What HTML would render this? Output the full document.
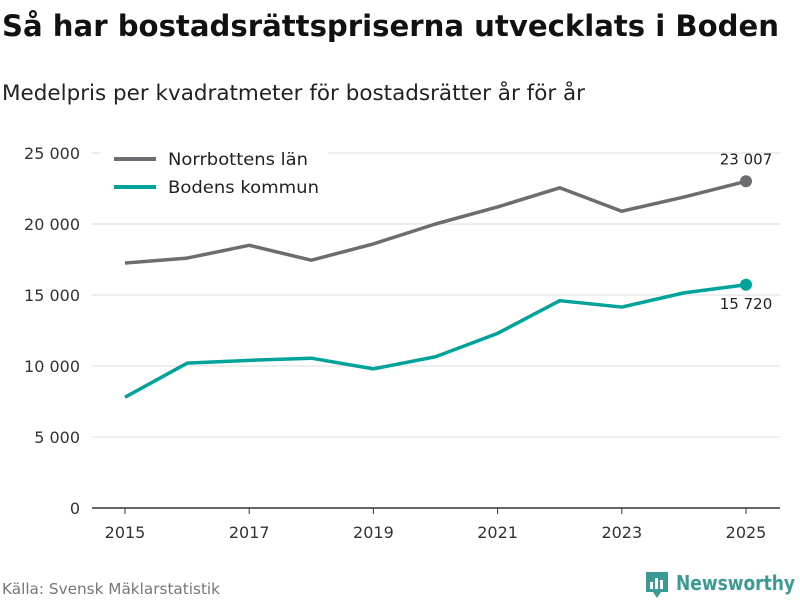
<!DOCTYPE html>
<html><head><meta charset="utf-8"><style>
body{margin:0;background:#fff;font-family:"DejaVu Sans","Liberation Sans",sans-serif;}
svg{display:block}
</style></head><body>
<svg width="800" height="600" viewBox="0 0 800 600">
<text x="2" y="36" font-size="29" font-weight="bold" fill="#111" textLength="777" lengthAdjust="spacingAndGlyphs">Så har bostadsrättspriserna utvecklats i Boden</text>
<text x="2" y="100" font-size="21" fill="#222" textLength="583" lengthAdjust="spacingAndGlyphs">Medelpris per kvadratmeter för bostadsrätter år för år</text>
<g id="grid"></g><g id="xt"></g><g id="lines"></g>
<g>
<rect x="100" y="143" width="228" height="62" fill="#fff"/>
<line x1="114" y1="159" x2="156" y2="159" stroke="#6d6c71" stroke-width="4"/>
<text x="168" y="165" font-size="17" fill="#222" textLength="140" lengthAdjust="spacingAndGlyphs">Norrbottens län</text>
<line x1="114" y1="187" x2="156" y2="187" stroke="#00a39a" stroke-width="4"/>
<text x="168" y="193" font-size="17" fill="#222" textLength="151" lengthAdjust="spacingAndGlyphs">Bodens kommun</text>
</g>
<text x="2" y="594" font-size="15" fill="#777" textLength="218" lengthAdjust="spacingAndGlyphs">Källa: Svensk Mäklarstatistik</text>
<g>
<path d="M646 572 h22 v20 h-7 l-4 6 l-4 -6 h-7 z" fill="#3b9a92"/>
<rect x="650" y="582" width="3" height="7" fill="#fff"/><rect x="655" y="578" width="3" height="11" fill="#fff"/><rect x="660" y="580" width="3" height="9" fill="#fff"/>
<text x="676" y="590" font-size="20" font-weight="bold" fill="#3b9a92" textLength="119" lengthAdjust="spacingAndGlyphs">Newsworthy</text>
</g>
</svg>
<script>
const years=[2015,2016,2017,2018,2019,2020,2021,2022,2023,2024,2025];
const norrbotten=[17250,17600,18500,17450,18600,20000,21200,22550,20900,21900,23007];
const boden=[7800,10200,10400,10550,9800,10650,12300,14600,14150,15150,15720];
const yTicks=[0,5000,10000,15000,20000,25000];
const yTickLabels=["0","5 000","10 000","15 000","20 000","25 000"];
const xTicks=[2015,2017,2019,2021,2023,2025];
const NS="http://www.w3.org/2000/svg";
const X=v=>125+(v-2015)*62.1;
const Y=v=>508-v*0.0142;
function mk(t,a,p){const e=document.createElementNS(NS,t);for(const k in a)e.setAttribute(k,a[k]);p.appendChild(e);return e;}
const g=document.getElementById('grid');
yTicks.forEach((v,i)=>{
 const l=mk('line',{x1:92,x2:780,y1:Y(v),y2:Y(v),stroke:v===0?'#333':'#ddd','stroke-width':v===0?1.5:1},g);
 
 
 const t=mk('text',{x:80,y:Y(v)+6,'text-anchor':'end','font-size':16,fill:'#333'},g);
 t.textContent=yTickLabels[i];
 
 
});
const xt=document.getElementById('xt');
xTicks.forEach(v=>{
 const l=mk('line',{x1:X(v),x2:X(v),y1:508,y2:514,stroke:'#333'},xt);
 
 
 const t=mk('text',{x:X(v),y:538,'text-anchor':'middle','font-size':16,fill:'#333'},xt);
 t.textContent=v;
 
 
});
const lg=document.getElementById('lines');
function series(vals,col,name,lab,ly){
 const p=mk('polyline',{points:vals.map((v,i)=>X(years[i])+','+Y(v)).join(' '),fill:'none',stroke:col,'stroke-width':3.5,'stroke-linejoin':'round'},lg);
 
 
 const last=vals[vals.length-1];
 const c=mk('circle',{cx:X(years[years.length-1]),cy:Y(last),r:6,fill:col},lg);
 
 
 const t=mk('text',{x:X(years[years.length-1]),y:Y(last)+ly,'text-anchor':'middle','font-size':15,fill:'#222'},lg);
 t.textContent=lab;
 
 
}
series(norrbotten,'#6d6c71','norrbotten','23 007',-17);
series(boden,'#00a39a','boden','15 720',24);
</script>
</body></html>
